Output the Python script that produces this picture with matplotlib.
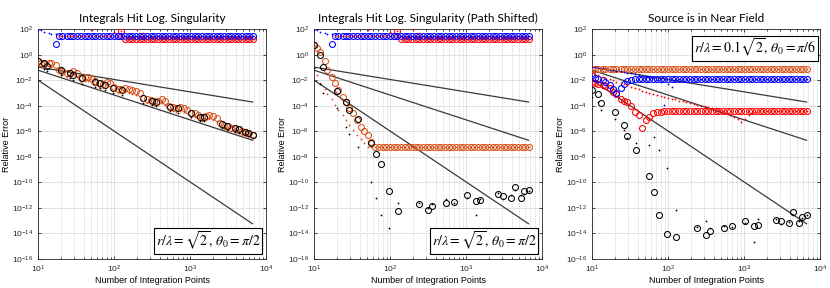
import numpy as np
import matplotlib
matplotlib.use('Agg')
import matplotlib.pyplot as plt
from matplotlib.ticker import LogFormatterMathtext, FixedLocator, NullLocator

plt.rcParams['font.family'] = ['Liberation Sans', 'DejaVu Sans']

# grid of integration points
Ng = [10, 11, 12, 14, 15, 17, 19, 21, 24, 26, 29, 33, 37, 41, 46, 51, 57, 64, 72, 80,
      89, 100, 112, 125, 140, 156, 174, 195, 218, 243, 272, 304, 339, 379, 424, 473, 529, 591, 660, 737,
      824, 920, 1028, 1149, 1283, 1434, 1602, 1790, 2000, 2234, 2496, 2789, 3116, 3481, 3889, 4345, 4855, 5424, 6060, 6650]
Nb = [10, 12, 13, 20, 26, 29, 38, 57, 65, 75, 98, 126, 242, 313, 360, 541, 690, 1040, 1350, 1530,
      2600, 3030, 3900, 4470, 5250, 5880, 6700]

# reference slopes (end points, log10)
line_n = [10, 6650]
line1 = [-0.96, -3.7]
line2 = [-1.2, -6.7]
line3 = [-1.98, -13.25]

# panels 1 and 2: blue / red (log10 error)
blue_dot = [1.95, 1.93, 1.78, 1.72, 1.66, 1.6, 1.55, 1.5, 1.5, 1.5,
            1.5, 1.5, 1.5, 1.5, 1.5, 1.5, 1.5, 1.5, 1.5, 1.5,
            1.5, 1.5, 1.5, 1.5, 1.5, 1.5, 1.5, 1.5, 1.5, 1.5,
            1.5, 1.5, 1.5, 1.5, 1.5, 1.5, 1.5, 1.5, 1.5, 1.5,
            1.5, 1.5, 1.5, 1.5, 1.5, 1.5, 1.5, 1.5, 1.5, 1.5,
            1.5, 1.5, 1.5, 1.5, 1.5, 1.5, 1.5, 1.5, 1.5, 1.5]
blue_circ = [0.85, 1.5, 1.5, 1.5, 1.5, 1.5, 1.5, 1.5, 1.5, 1.5,
             1.5, 1.5, 1.5, 1.5, 1.5, 1.5, 1.5, 1.5, 1.5, 1.5,
             1.5, 1.5, 1.5, 1.5, 1.5, 1.5, 1.5, 1.5, 1.5, 1.5,
             1.5, 1.5, 1.5, 1.5, 1.5, 1.5, 1.5, 1.5, 1.5, 1.5,
             1.5, 1.5, 1.5, 1.5, 1.5, 1.5, 1.5, 1.5, 1.5, 1.5,
             1.5, 1.5, 1.5, 1.5, 1.5]
red_circ = [1.5, 1.85, 1.24, 1.24, 1.24, 1.24, 1.24, 1.24, 1.24, 1.24,
            1.24, 1.24, 1.24, 1.24, 1.24, 1.24, 1.24, 1.24, 1.24, 1.24,
            1.24, 1.24, 1.24, 1.24, 1.24, 1.24, 1.24, 1.24, 1.24, 1.24,
            1.24, 1.24, 1.24, 1.24, 1.24, 1.24, 1.24, 1.24]
red_dot = [1.5, 1.5, 1.5, 1.5, 1.5, 1.5, 1.5, 1.5, 1.5, 1.95,
           1.5, 1.5, 1.5, 1.5, 1.5, 1.76, 1.5, 1.85, 1.24, 1.24,
           1.24, 2.0, 1.24, 1.69, 1.24, 1.24, 1.24, 1.24, 1.24, 1.24,
           1.24, 1.24, 1.24, 1.24, 1.24, 1.24, 1.24, 1.24, 1.24, 1.24,
           1.24, 1.24, 1.24, 1.24, 1.24, 1.24, 1.24, 1.24, 1.24, 1.24,
           1.24, 1.24, 1.24, 1.24]

# panel 1
p1_orange_circ = [-0.45, -0.6, -0.7, -0.6, -0.67, -0.8, -1.15, -1.3, -1.4, -1.45,
                  -1.25, -1.4, -1.8, -1.75, -1.76, -1.9, -2.05, -2.2, -2.3, -2.1,
                  -2.2, -2.55, -2.7, -2.7, -2.6, -2.7, -2.75, -2.85, -3.0, -3.35,
                  -3.5, -3.55, -3.6, -3.65, -3.5, -3.6, -4.0, -4.1, -4.15, -4.1,
                  -4.2, -4.3, -4.55, -4.6, -4.75, -4.85, -4.8, -4.7, -4.8, -4.95,
                  -5.35, -5.5, -5.6, -5.7, -5.75, -5.82, -5.95, -6.05, -6.15, -6.25]
p1_orange_dot = [-0.75, -0.9, -1.0, -0.9, -0.97, -1.1, -1.45, -1.6, -1.7, -1.75,
                 -1.55, -1.7, -2.1, -2.05, -2.06, -2.2, -2.35, -2.5, -2.6, -2.4,
                 -2.5, -2.85, -3.0, -3.0, -2.9, -3.0, -3.05, -3.15, -3.3, -3.65,
                 -3.8, -3.85, -3.9, -3.95, -3.8, -3.9, -4.3, -4.4, -4.45, -4.4,
                 -4.5, -4.6, -4.85, -4.9, -5.05, -5.15, -5.1, -5.0, -5.1, -5.25,
                 -5.65, -5.8, -5.9, -6.0, -6.05, -6.12, -6.25, -6.35, -6.45, -6.55]
p1_black_circ = [-0.49, -0.67, -0.85, -1.19, -1.42, -1.55, -1.84, -2.11, -2.24, -2.37,
                 -2.63, -2.76, -3.41, -3.6, -3.68, -4.07, -4.2, -4.59, -4.85, -4.9,
                 -5.43, -5.58, -5.76, -5.84, -6.03, -6.11, -6.29]
p1_black_dot = [-0.95, -1.1, -1.28, -1.6, -1.83, -1.95, -2.25, -2.5, -2.63, -2.75,
                -3.0, -3.13, -3.78, -3.95, -4.03, -4.4, -4.53, -4.9, -5.15, -5.2,
                -5.72, -5.86, -6.03, -6.1, -6.28, -6.36, -6.53]

# panel 2
p2_orange_circ = [0.77, 0.5, 0.24, -0.49, -1.19, -1.72, -2.2, -2.75, -3.33, -3.68,
                  -4.2, -4.59, -5.1, -5.64, -6.0, -6.29, -6.8, -7.2, -7.2, -7.2,
                  -7.2, -7.2, -7.2, -7.2, -7.2, -7.2, -7.2, -7.2, -7.2, -7.2,
                  -7.2, -7.2, -7.2, -7.2, -7.2, -7.2, -7.2, -7.2, -7.2, -7.2,
                  -7.2, -7.2, -7.2, -7.2, -7.2, -7.2, -7.2, -7.2, -7.2, -7.2,
                  -7.2, -7.2, -7.2, -7.2, -7.2, -7.2, -7.2, -7.2, -7.2, -7.2]
p2_orange_dot = [-1.06, -1.6, -2.24, -2.7, -3.1, -3.5, -3.9, -4.3, -4.7, -5.1,
                 -5.5, -5.9, -6.3, -6.6, -6.9, -7.2, -7.2, -7.2, -7.2, -7.2,
                 -7.2, -7.2, -7.2, -7.2, -7.2, -7.2, -7.2, -7.2, -7.2, -7.2,
                 -7.2, -7.2, -7.2, -7.2, -7.2, -7.2, -7.2, -7.2, -7.2, -7.2,
                 -7.2, -7.2, -7.2, -7.2, -7.2, -7.2, -7.2, -7.2, -7.2, -7.2,
                 -7.2, -7.2, -7.2, -7.2, -7.2, -7.2, -7.2, -7.2, -7.2, -7.2]
p2_black_circ = [0.77, -0.02, -0.93, -2.8, -3.7, -4.3, -5.06, -6.94, -7.78, -8.56,
                 -10.7, -12.25, -11.7, -12.17, -11.86, -11.6, -11.52, -11.0, -11.47, -11.4,
                 -10.9, -11.07, -11.2, -10.35, -11.2, -10.7, -10.6]
p2_black_dot = [-1.0, -2.29, -2.97, -4.2, -5.64, -6.2, -7.2, -10.0, -11.2, -12.6,
                -13.6, -11.65, -11.6, -12.0, -11.7, -11.3, -11.6, -11.2, -12.6, -11.3,
                -10.8, -11.3, -11.0, -10.6, -11.0, -10.9, -10.7]

# panel 3
p3_orange = [-1.11, -1.11, -1.11, -1.11, -1.11, -1.11, -1.11, -1.11, -1.11, -1.11,
             -1.11, -1.11, -1.11, -1.11, -1.11, -1.11, -1.11, -1.11, -1.11, -1.11,
             -1.11, -1.11, -1.11, -1.11, -1.11, -1.11, -1.11, -1.11, -1.11, -1.11,
             -1.11, -1.11, -1.11, -1.11, -1.11, -1.11, -1.11, -1.11, -1.11, -1.11,
             -1.11, -1.11, -1.11, -1.11, -1.11, -1.11, -1.11, -1.11, -1.11, -1.11,
             -1.11, -1.11, -1.11, -1.11, -1.11, -1.11, -1.11, -1.11, -1.11, -1.11]
p3_blue_circ = [-1.58, -1.8, -1.92, -1.95, -2.1, -2.37, -2.7, -2.97, -2.6, -2.3,
                -2.05, -1.95, -1.9, -1.9, -1.9, -1.9, -1.9, -1.9, -1.9, -1.9,
                -1.9, -1.9, -1.9, -1.9, -1.9, -1.9, -1.9, -1.9, -1.9, -1.9,
                -1.9, -1.9, -1.9, -1.9, -1.9, -1.9, -1.9, -1.9, -1.9, -1.9,
                -1.9, -1.9, -1.9, -1.9, -1.9, -1.9, -1.9, -1.9, -1.9, -1.9,
                -1.9, -1.9, -1.9, -1.9, -1.9, -1.9, -1.9, -1.9, -1.9, -1.9]
p3_blue_dot = [-0.93, -0.97, -1.0, -1.05, -1.1, -1.15, -1.2, -1.25, -1.3, -1.35,
               -1.4, -1.45, -1.52, -1.58, -1.65, -1.7, -1.77, -1.85, -1.95, -2.1,
               -3.9, -2.3, -2.5, -2.0, -1.9, -1.9, -1.9, -1.9, -1.9, -1.9,
               -1.9, -1.9, -1.9, -1.9, -1.9, -1.9, -1.9, -1.9, -1.9, -1.9,
               -1.9, -1.9, -1.9, -1.9, -1.9, -1.9, -1.9, -1.9, -1.9, -1.9,
               -1.9, -1.9, -1.9, -1.9, -1.9, -1.9, -1.9, -1.9, -1.9, -1.9]
p3_red_circ = [-2.1, -2.2, -2.25, -2.35, -2.45, -2.6, -2.9, -3.1, -3.45, -3.6,
               -3.7, -4.0, -4.5, -4.7, -5.76, -5.1, -4.85, -4.6, -4.5, -4.45,
               -4.42, -4.42, -4.42, -4.42, -4.42, -4.42, -4.42, -4.42, -4.42, -4.42,
               -4.42, -4.42, -4.42, -4.42, -4.42, -4.42, -4.42, -4.42, -4.42, -4.42,
               -4.42, -4.42, -4.42, -4.42, -4.42, -4.42, -4.42, -4.42, -4.42, -4.42,
               -4.42, -4.42, -4.42, -4.42, -4.42, -4.42, -4.42, -4.42, -4.42, -4.42]
p3_red_dot = [-1.4, -1.5, -1.6, -1.7, -1.8, -1.9, -2.0, -2.1, -2.2, -2.3,
              -2.4, -2.5, -2.6, -2.7, -2.8, -2.9, -3.0, -3.1, -3.15, -3.2,
              -3.3, -3.4, -3.45, -3.5, -3.6, -3.65, -3.7, -3.8, -3.85, -3.9,
              -4.0, -4.05, -4.1, -4.15, -4.2, -4.3, -4.4, -4.55, -4.7, -4.85,
              -5.05, -5.25, -5.0, -4.75, -4.6, -4.5, -4.42, -4.42, -4.42, -4.42,
              -4.42, -4.42, -4.42, -4.42, -4.42, -4.42, -4.42, -4.42, -4.42, -4.42]
p3_black_circ = [-2.76, -3.1, -3.8, -4.46, -5.5, -6.4, -7.47, -9.48, -10.74, -12.56,
                 -14.05, -14.27, -13.6, -14.13, -13.8, -13.6, -13.43, -13.0, -13.43, -13.35,
                 -12.96, -13.0, -13.17, -12.3, -13.17, -12.7, -12.56]
p3_black_dot = [-3.3, -3.7, -4.3, -5.0, -5.9, -6.5, -6.9, -7.07, -6.42, -7.47,
                -8.9, -12.17, -13.5, -13.0, -13.6, -13.4, -13.5, -13.2, -14.7, -12.9,
                -12.9, -13.3, -13.1, -12.6, -13.0, -12.8, -12.6]

titles = ['Integrals Hit Log. Singularity',
          'Integrals Hit Log. Singularity (Path Shifted)',
          'Source is in Near Field']
notes = [r'$r/\lambda = \sqrt{2},\,\theta_0 = \pi/2$',
         r'$r/\lambda = \sqrt{2},\,\theta_0 = \pi/2$',
         r'$r/\lambda = 0.1\sqrt{2},\,\theta_0 = \pi/6$']

ORANGE = (0.85, 0.325, 0.098)

panels = [
    dict(blue_dot=(Ng, blue_dot), blue_circ=(Ng[5:], blue_circ), red_circ=(Ng[22:], red_circ),
         red_dot=(Ng[6:], red_dot), orange_circ=(Ng, p1_orange_circ), orange_dot=(Ng, p1_orange_dot),
         black_circ=(Nb, p1_black_circ), black_dot=(Nb, p1_black_dot)),
    dict(blue_dot=(Ng, blue_dot), blue_circ=(Ng[5:], blue_circ), red_circ=(Ng[22:], red_circ),
         red_dot=(Ng[6:], red_dot), orange_circ=(Ng, p2_orange_circ), orange_dot=(Ng, p2_orange_dot),
         black_circ=(Nb, p2_black_circ), black_dot=(Nb, p2_black_dot)),
    dict(blue_dot=(Ng, p3_blue_dot), blue_circ=(Ng, p3_blue_circ), red_circ=(Ng, p3_red_circ),
         red_dot=(Ng, p3_red_dot), orange_circ=(Ng, p3_orange), orange_dot=(Ng, p3_orange),
         black_circ=(Nb, p3_black_circ), black_dot=(Nb, p3_black_dot)),
]

fig = plt.figure(figsize=(8.3, 2.88), dpi=100)
lefts = [38 / 830, 314 / 830, 592 / 830]

for i, d in enumerate(panels):
    ax = fig.add_axes([lefts[i], 0.1014, 0.2747, 0.7966])
    ax.set_xscale('log')
    ax.set_yscale('log')

    for ln in (line1, line2, line3):
        ax.plot(line_n, 10.0 ** np.array(ln), color='#3a3a3a', lw=0.9, zorder=2)

    def circ(key, c):
        x, y = d[key]
        ax.plot(x, 10.0 ** np.array(y), 'o', ms=4.3, mfc='none', mec=c, mew=0.75, zorder=3)

    def dot(key, c):
        x, y = d[key]
        ax.plot(x, 10.0 ** np.array(y), 'o', ms=1.3, mfc=c, mec=c, mew=0, zorder=4)

    circ('red_circ', 'red')
    circ('blue_circ', 'blue')
    dot('blue_dot', 'blue')
    dot('red_dot', 'red')
    circ('orange_circ', ORANGE)
    dot('orange_dot', ORANGE)
    circ('black_circ', 'black')
    dot('black_dot', 'black')

    ax.set_xlim(10, 1e4)
    ax.set_ylim(1e-16, 1e2)
    ax.yaxis.set_major_locator(FixedLocator([10.0 ** k for k in range(-16, 3, 2)]))
    ax.yaxis.set_minor_locator(NullLocator())
    ax.yaxis.set_major_formatter(LogFormatterMathtext())
    ax.xaxis.grid(True, which='major', color='#dcdcdc', lw=0.6, ls='-')
    ax.xaxis.grid(True, which='minor', color='#d0d0d0', lw=0.6, ls=(0, (1.5, 1.5)))
    ax.yaxis.grid(True, which='major', color='#dcdcdc', lw=0.6, ls='-')
    ax.yaxis.grid(False, which='minor')
    ax.set_axisbelow(True)
    ax.tick_params(which='both', direction='in', top=True, right=True, labelsize=6,
                   colors='#262626', length=2.5, width=0.6)
    ax.tick_params(which='minor', length=1.5)
    for s in ax.spines.values():
        s.set_color('#262626')
        s.set_linewidth(0.6)
    ax.set_xlabel('Number of Integration Points', fontsize=6.5, labelpad=1)
    ax.set_ylabel('Relative Error', fontsize=6.5, labelpad=1)
    ax.set_title(titles[i], fontsize=8.5, family='Lato', pad=5)

    bbox = dict(boxstyle='square,pad=0.12', fc='white', ec='black', lw=0.8)
    if i < 2:
        ax.text(0.975, 0.03, notes[i], transform=ax.transAxes, ha='right', va='bottom',
                fontsize=10, math_fontfamily='stix', bbox=bbox, zorder=6)
    else:
        ax.text(0.982, 0.965, notes[i], transform=ax.transAxes, ha='right', va='top',
                fontsize=10, math_fontfamily='stix', bbox=bbox, zorder=6)

fig.savefig('out.png', dpi=100)
